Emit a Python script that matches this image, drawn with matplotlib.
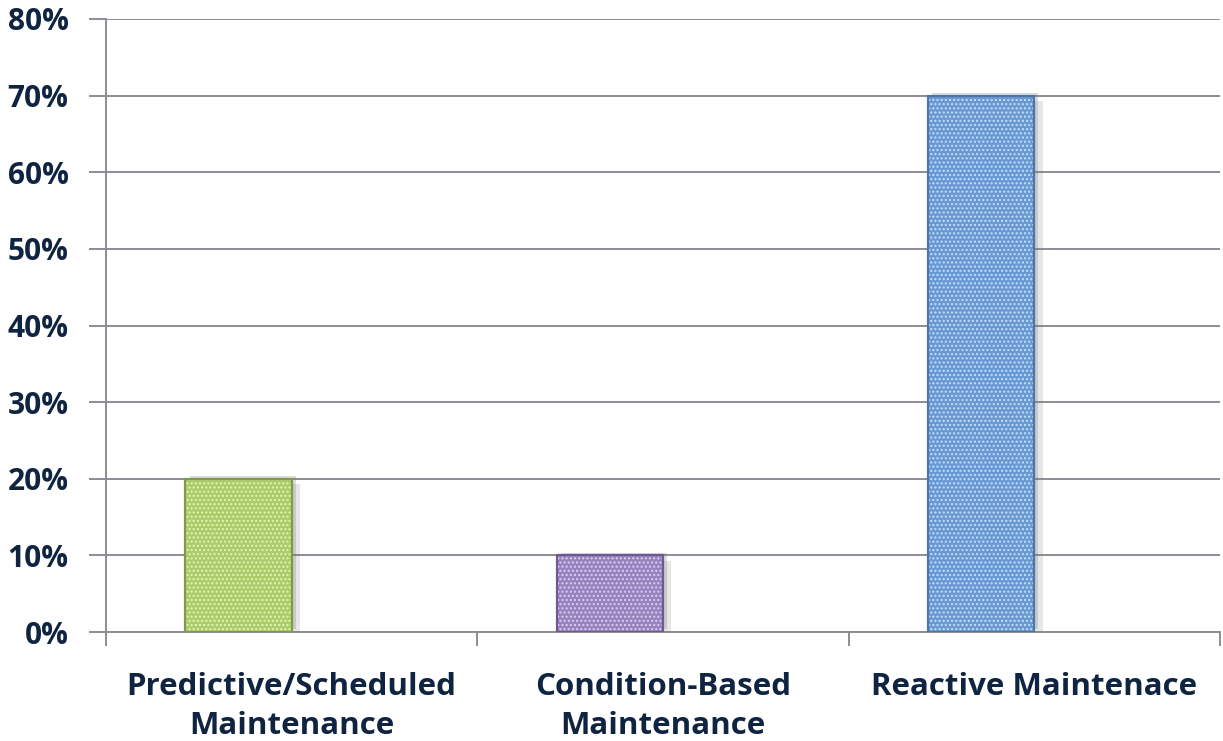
import matplotlib
matplotlib.use("Agg")
import matplotlib.pyplot as plt
import matplotlib.patheffects as pe
import numpy as np
from matplotlib.ticker import MultipleLocator, FuncFormatter

# chart data
categories = ["Predictive/Scheduled\nMaintenance", "Condition-Based\nMaintenance", "Reactive Maintenace"]
shares = [0.20, 0.10, 0.70]
fill_colors = ["#abcb6c", "#9683bd", "#6a98d2"]
dot_colors = ["#e2f7b0", "#dccff2", "#c6e0fa"]
edge_colors = ["#7f9a4c", "#6c5a91", "#4a76ab"]

text_color = "#0f2440"
grid_color = "#8c8c93"

plt.rcParams['font.family'] = ['Open Sans', 'DejaVu Sans']
plt.rcParams['hatch.linewidth'] = 1.0

fig = plt.figure(figsize=(12.23, 7.41), dpi=100)
ax = fig.add_axes([106 / 1223, 1 - 632 / 741, 1114 / 1223, 613 / 741])

x = np.arange(len(categories))
width = 0.286  # bar sits just left of the category center (empty second series)
left_offset = -width / 2

for i in range(len(categories)):
    bar = ax.bar(x[i] + left_offset, shares[i], width, color=fill_colors[i],
                 edgecolor=edge_colors[i], linewidth=1.5, zorder=3)[0]
    bar.set_path_effects([pe.SimplePatchShadow(offset=(6, -4), shadow_rgbFace="#777777", alpha=0.18),
                          pe.SimplePatchShadow(offset=(3, 2), shadow_rgbFace="#777777", alpha=0.25),
                          pe.Normal()])
    ax.bar(x[i] + left_offset, shares[i], width, color="none",
           edgecolor=dot_colors[i], linewidth=0, hatch="....", zorder=4)
    ax.bar(x[i] + left_offset, shares[i], width, color="none",
           edgecolor=edge_colors[i], linewidth=1.5, zorder=5)

ax.set_xlim(-0.5, len(categories) - 0.5)
ax.set_ylim(0, 0.8)
ax.yaxis.set_major_locator(MultipleLocator(0.1))
ax.yaxis.set_major_formatter(FuncFormatter(lambda v, p: f"{v * 100:.0f}%"))
ax.grid(axis="y", color=grid_color, linewidth=1.4, zorder=0)
ax.set_axisbelow(True)

ax.set_xticks(x)
ax.set_xticklabels(categories, fontsize=22.5, fontweight="bold", color=text_color, linespacing=1.4)
ax.tick_params(axis="x", length=0, pad=29)
ax.set_xticks(np.arange(len(categories) + 1) - 0.5, minor=True)
ax.tick_params(axis="x", which="minor", length=10, width=1.4, color=grid_color)
ax.tick_params(axis="y", length=12, width=1.4, color=grid_color, labelsize=21.5,
               labelcolor=text_color, pad=15)
for lbl in ax.get_yticklabels():
    lbl.set_fontweight("bold")

for side in ["top", "right"]:
    ax.spines[side].set_visible(False)
for side in ["left", "bottom"]:
    ax.spines[side].set_color(grid_color)
    ax.spines[side].set_linewidth(1.4)

fig.savefig("out.png", dpi=100)
